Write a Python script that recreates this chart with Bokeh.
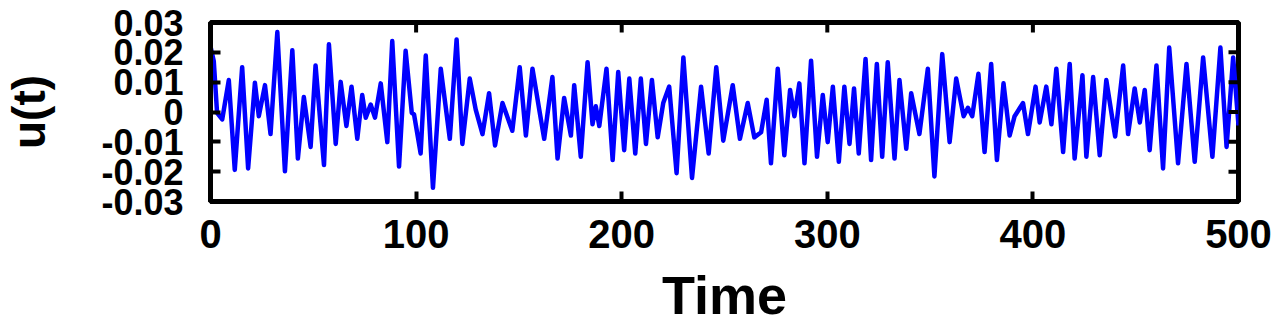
import math
from bokeh.plotting import figure
from bokeh.models import Range1d, FixedTicker
from bokeh.embed import file_html
from bokeh.resources import INLINE

# ---- data (turning points of the signal) ----
time = [
    0, 1.6, 3.2, 5.7, 8.9, 11.8, 15.4, 18.3, 21.6, 23.5,
    26.5, 29.2, 32.5, 36.2, 39.8, 42.5, 45.4, 48.7, 51.1, 55.2,
    57.6, 60.9, 63.3, 66.1, 68.6, 71.4, 73.8, 75.5, 77.9, 80.0,
    82.8, 86.0, 88.4, 91.7, 94.9, 97.9, 99.0, 102.2, 104.7, 108.2,
    112.0, 116.4, 119.7, 122.5, 126.1, 129.0, 132.3, 135.5, 138.4, 142.0,
    146.8, 150.4, 153.4, 156.6, 159.9, 162.3, 166.3, 168.8, 172.0, 175.3,
    176.9, 180.1, 183.4, 185.8, 187.4, 189.1, 192.6, 195.6, 198.3, 201.2,
    203.7, 206.6, 209.3, 211.8, 214.7, 217.5, 220.2, 223.1, 226.7, 230.0,
    234.2, 238.6, 242.3, 246.0, 249.4, 254.0, 257.5, 261.3, 264.5, 267.8,
    270.5, 272.6, 275.9, 279.1, 281.9, 284.0, 286.4, 288.9, 292.1, 295.0,
    297.8, 300.2, 302.7, 305.6, 308.3, 310.8, 313.0, 315.3, 318.6, 321.3,
    324.1, 326.7, 329.4, 332.7, 335.1, 338.4, 340.8, 344.8, 348.9, 352.1,
    355.9, 359.5, 362.7, 366.3, 368.4, 370.5, 373.5, 376.5, 379.7, 382.5,
    385.7, 388.7, 391.1, 395.2, 397.6, 401.3, 403.3, 406.5, 409.0, 411.4,
    414.7, 417.9, 420.3, 424.1, 426.0, 429.3, 432.5, 435.7, 440.0, 443.9,
    446.3, 449.5, 452.0, 454.4, 456.8, 460.1, 463.3, 466.3, 470.6, 474.7,
    478.7, 482.8, 487.3, 491.2, 494.2, 497.4, 500.0,
]
u_values = [
    0.022, 0.017, -0.0003, -0.0025, 0.0107, -0.0194, 0.0150, -0.0189, 0.0098, -0.0014,
    0.0090, -0.0074, 0.0268, -0.0199, 0.0207, -0.0156, 0.0050, -0.0117, 0.0156, -0.0178,
    0.0227, -0.0107, 0.0101, -0.0047, 0.0085, -0.0090, 0.0057, -0.0019, 0.0025, -0.0019,
    0.0096, -0.0101, 0.0238, -0.0183, 0.0205, -0.0003, -0.0008, -0.0139, 0.0189, -0.0254,
    0.0145, -0.0090, 0.0243, -0.0107, 0.0112, 0.0008, -0.0074, 0.0063, -0.0112, 0.0030,
    -0.0063, 0.0150, -0.0079, 0.0145, 0.0008, -0.0090, 0.0117, -0.0156, 0.0047, -0.0079,
    0.0090, -0.0150, 0.0167, -0.0041, 0.0019, -0.0047, 0.0145, -0.0161, 0.0134, -0.0128,
    0.0112, -0.0139, 0.0112, -0.0107, 0.0107, -0.0085, 0.0030, 0.0085, -0.0205, 0.0183,
    -0.0221, 0.0085, -0.0139, 0.0150, -0.0096, 0.0090, -0.0090, 0.0030, -0.0085, -0.0068,
    0.0041, -0.0172, 0.0145, -0.0145, 0.0074, -0.0014, 0.0096, -0.0172, 0.0172, -0.0150,
    0.0057, -0.0101, 0.0085, -0.0167, 0.0085, -0.0107, 0.0079, -0.0139, 0.0178, -0.0161,
    0.0161, -0.0150, 0.0167, -0.0156, 0.0107, -0.0123, 0.0063, -0.0074, 0.0145, -0.0216,
    0.0194, -0.0101, 0.0112, -0.0014, 0.0014, -0.0014, 0.0128, -0.0134, 0.0161, -0.0161,
    0.0096, -0.0079, -0.0014, 0.0030, -0.0074, 0.0085, -0.0035, 0.0085, -0.0041, 0.0145,
    -0.0134, 0.0161, -0.0156, 0.0123, -0.0150, 0.0117, -0.0145, 0.0107, -0.0082, 0.0156,
    -0.0074, 0.0079, -0.0035, 0.0074, -0.0128, 0.0156, -0.0189, 0.0216, -0.0172, 0.0161,
    -0.0167, 0.0183, -0.0150, 0.0216, -0.0117, 0.0183, -0.0045,
]
x_ticks = [0, 100, 200, 300, 400, 500]
y_ticks = [-0.03, -0.02, -0.01, 0, 0.01, 0.02, 0.03]
y_tick_labels = ["-0.03", "-0.02", "-0.01", "0", "0.01", "0.02", "0.03"]

FONT = "Liberation Sans"

p = figure(width=1287, height=335, output_backend="svg", toolbar_location=None,
           x_range=Range1d(0, 500), y_range=Range1d(-0.03, 0.03),
           min_border_left=210, min_border_right=49,
           min_border_top=22, min_border_bottom=134,
           x_axis_label="Time", y_axis_label="u(t)")

p.line(time, u_values, line_color="#0000ff", line_width=4.5, line_join="round")

p.xgrid.visible = False
p.ygrid.visible = False
p.outline_line_color = "black"
p.outline_line_width = 5
p.background_fill_color = "white"
p.border_fill_color = "white"


def style(ax, label_size):
    ax.axis_line_color = "black"
    ax.axis_line_width = 5
    ax.major_tick_in = 10
    ax.major_tick_out = 0
    ax.major_tick_line_width = 4
    ax.major_tick_line_color = "black"
    ax.minor_tick_line_color = None
    ax.major_label_text_font = FONT
    ax.major_label_text_font_style = "bold"
    ax.major_label_text_font_size = label_size
    ax.major_label_text_color = "black"
    ax.axis_label_text_font = FONT
    ax.axis_label_text_font_style = "bold"
    ax.axis_label_text_color = "black"


xa = p.xaxis[0]
xa.ticker = FixedTicker(ticks=x_ticks)
style(xa, "40px")
xa.major_label_standoff = 18
xa.axis_label_text_font_size = "54px"
xa.axis_label_standoff = 14

ya = p.yaxis[0]
ya.ticker = FixedTicker(ticks=y_ticks)
style(ya, "36px")
ya.major_label_overrides = {v: s for v, s in zip(y_ticks, y_tick_labels)}
ya.major_label_standoff = 27
ya.axis_label_text_font_size = "46px"
ya.axis_label_standoff = 43

# inward ticks on the top and right edges of the box (mirrors of the axis ticks)
p.ray(x=x_ticks, y=[max(y_ticks)] * len(x_ticks), length=10, length_units="screen",
      angle=-math.pi / 2, line_color="black", line_width=4)
p.ray(x=[max(x_ticks)] * len(y_ticks), y=y_ticks, length=10, length_units="screen",
      angle=math.pi, line_color="black", line_width=4)

open("out.html", "w").write(file_html(p, INLINE))
